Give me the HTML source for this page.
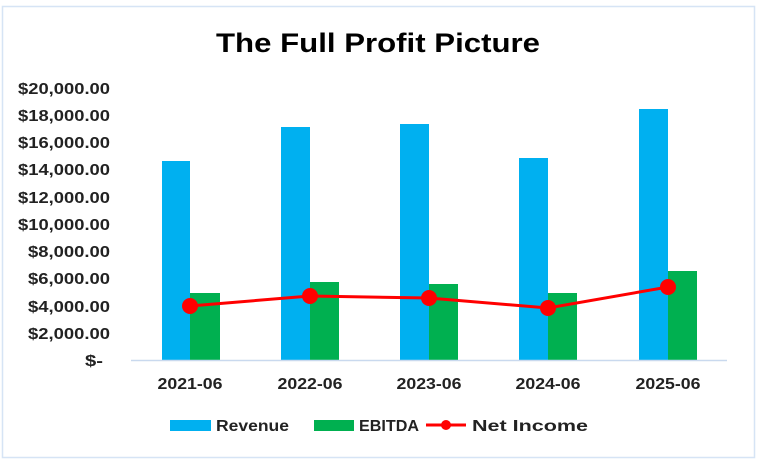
<!DOCTYPE html>
<html><head><style>
body{margin:0;background:#fff;}
svg{display:block;font-family:"Liberation Sans",sans-serif;font-weight:bold;}
</style></head><body>
<svg width="758" height="461" viewBox="0 0 758 461">
<rect x="0" y="0" width="758" height="461" fill="#fff"/>
<rect x="2.5" y="6.5" width="752" height="451" fill="#fff" stroke="#d6e4f5" stroke-width="1.5"/>
<text x="378" y="52" text-anchor="middle" font-size="27" fill="#000" textLength="324" lengthAdjust="spacingAndGlyphs">The Full Profit Picture</text>
<g font-size="16" fill="#222" text-anchor="end" lengthAdjust="spacingAndGlyphs">
<text x="110" y="94" textLength="92" lengthAdjust="spacingAndGlyphs">$20,000.00</text>
<text x="110" y="121" textLength="92" lengthAdjust="spacingAndGlyphs">$18,000.00</text>
<text x="110" y="148" textLength="92" lengthAdjust="spacingAndGlyphs">$16,000.00</text>
<text x="110" y="175" textLength="92" lengthAdjust="spacingAndGlyphs">$14,000.00</text>
<text x="110" y="203" textLength="92" lengthAdjust="spacingAndGlyphs">$12,000.00</text>
<text x="110" y="230" textLength="92" lengthAdjust="spacingAndGlyphs">$10,000.00</text>
<text x="110" y="257" textLength="82" lengthAdjust="spacingAndGlyphs">$8,000.00</text>
<text x="110" y="284" textLength="82" lengthAdjust="spacingAndGlyphs">$6,000.00</text>
<text x="110" y="312" textLength="82" lengthAdjust="spacingAndGlyphs">$4,000.00</text>
<text x="110" y="339" textLength="82" lengthAdjust="spacingAndGlyphs">$2,000.00</text>
<text x="103" y="366" textLength="18" lengthAdjust="spacingAndGlyphs">$-</text>
</g>
<g fill="#00b0f0">
<rect x="162" y="161" width="28" height="199"/>
<rect x="281" y="127" width="29" height="233"/>
<rect x="400" y="124" width="29" height="236"/>
<rect x="519" y="158" width="29" height="202"/>
<rect x="639" y="109" width="29" height="251"/>
</g>
<g fill="#00b050">
<rect x="190" y="293" width="30" height="67"/>
<rect x="310" y="282" width="29" height="78"/>
<rect x="429" y="284" width="29" height="76"/>
<rect x="548" y="293" width="29" height="67"/>
<rect x="668" y="271" width="29" height="89"/>
</g>
<line x1="131" y1="360.5" x2="727" y2="360.5" stroke="#c9d9ee" stroke-width="1.5"/>
<polyline points="190,306 310,296 429,298 548,308 668,287" fill="none" stroke="#ff0000" stroke-width="3"/>
<g fill="#ff0000">
<circle cx="190" cy="306" r="8"/><circle cx="310" cy="296" r="8"/><circle cx="429" cy="298" r="8"/><circle cx="548" cy="308" r="8"/><circle cx="668" cy="287" r="8"/>
</g>
<g font-size="16" fill="#222" text-anchor="middle">
<text x="190" y="389" textLength="65" lengthAdjust="spacingAndGlyphs">2021-06</text>
<text x="310" y="389" textLength="65" lengthAdjust="spacingAndGlyphs">2022-06</text>
<text x="429" y="389" textLength="65" lengthAdjust="spacingAndGlyphs">2023-06</text>
<text x="548" y="389" textLength="65" lengthAdjust="spacingAndGlyphs">2024-06</text>
<text x="668" y="389" textLength="65" lengthAdjust="spacingAndGlyphs">2025-06</text>
</g>
<rect x="170" y="420" width="41" height="11" fill="#00b0f0"/>
<text x="216" y="431" font-size="16" fill="#222" textLength="73" lengthAdjust="spacingAndGlyphs">Revenue</text>
<rect x="314" y="420" width="40" height="11" fill="#00b050"/>
<text x="359" y="431" font-size="16" fill="#222" textLength="60" lengthAdjust="spacingAndGlyphs">EBITDA</text>
<line x1="426" y1="425" x2="466" y2="425" stroke="#ff0000" stroke-width="3"/>
<circle cx="446" cy="425" r="5" fill="#ff0000"/>
<text x="472" y="431" font-size="16" fill="#222" textLength="116" lengthAdjust="spacingAndGlyphs">Net Income</text>
</svg>
</body></html>
